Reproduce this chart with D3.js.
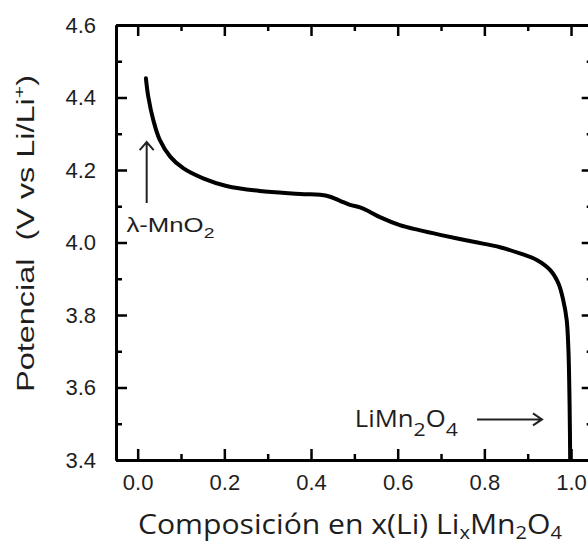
<!DOCTYPE html>
<html>
<head>
<meta charset="utf-8">
<script src="https://cdn.jsdelivr.net/npm/d3@7"></script>
<style>
  html, body { margin: 0; padding: 0; background: #fff; overflow: hidden; }
  svg { display: block; }
</style>
</head>
<body>
<svg id="chart" width="588" height="547"></svg>
<script>
// Discharge curve of Li_xMn2O4: composition x(Li) vs potential (V vs Li/Li+)
const compositionX = [0.019, 0.0245, 0.036, 0.051, 0.075, 0.105, 0.151, 0.205, 0.282, 0.375,
  0.436, 0.467, 0.49, 0.513, 0.535, 0.559, 0.605, 0.65, 0.698, 0.775, 0.836, 0.882, 0.921,
  0.952, 0.971, 0.982, 0.990, 0.994, 0.996, 0.9975, 0.998];
const potentialV = [4.453, 4.402, 4.338, 4.283, 4.237, 4.205, 4.177, 4.156, 4.142, 4.134,
  4.129, 4.115, 4.104, 4.097, 4.085, 4.070, 4.048, 4.034, 4.021, 4.002, 3.987, 3.970, 3.952,
  3.924, 3.887, 3.841, 3.786, 3.703, 3.602, 3.474, 3.40];

const xMajorTicks = [0.0, 0.2, 0.4, 0.6, 0.8, 1.0];
const xMinorTicks = [0.1, 0.3, 0.5, 0.7, 0.9];
const yMajorTicks = [3.4, 3.6, 3.8, 4.0, 4.2, 4.4, 4.6];
const yMinorTicks = [3.5, 3.7, 3.9, 4.1, 4.3, 4.5];

const xDomain = [-0.05, 1.05];
const yDomain = [3.4, 4.6];

// annotation anchors, in data units
const upArrow = { x: 0.0208, from: 4.109, to: 4.277 };
const rightArrow = { y: 3.512, from: 0.783, to: 0.933 };
const lambdaLabel = { x: -0.026, y: 4.029 };
const spinelLabel = { x: 0.501, y: 3.491 };

const svg = d3.select("#chart");
const x = d3.scaleLinear().domain(xDomain).range([116, 592.7]);
const y = d3.scaleLinear().domain(yDomain).range([460, 25]);

const armFont = "Arial, 'Liberation Sans', Helvetica, sans-serif";
const humFont = "'Open Sans', 'Noto Sans', sans-serif";
const ink = "#1e1e1e";

// curve
const data = compositionX.map((d, i) => [d, potentialV[i]]);
svg.append("path")
  .datum(data)
  .attr("fill", "none")
  .attr("stroke", "#000")
  .attr("stroke-width", 4)
  .attr("stroke-linejoin", "round")
  .attr("stroke-linecap", "round")
  .attr("d", d3.line().x(d => x(d[0])).y(d => y(d[1])).curve(d3.curveCatmullRom.alpha(0.5)));

// axes with inward ticks on all four sides
function styleAxis(g) {
  g.selectAll(".domain").attr("stroke-width", 3).attr("stroke", "#000");
  g.selectAll(".tick line").attr("stroke-width", 2.5).attr("stroke", "#000");
}
const axBottom = d3.axisBottom(x).tickValues(xMajorTicks).tickSizeInner(-11).tickSizeOuter(0)
  .tickPadding(14).tickFormat(d3.format(".1f"));
const axBottomMinor = d3.axisBottom(x).tickValues(xMinorTicks).tickSizeInner(-6).tickSizeOuter(0).tickFormat("");
const axTop = d3.axisTop(x).tickValues(xMajorTicks).tickSizeInner(-11).tickSizeOuter(0).tickFormat("");
const axTopMinor = d3.axisTop(x).tickValues(xMinorTicks).tickSizeInner(-6).tickSizeOuter(0).tickFormat("");
const axLeft = d3.axisLeft(y).tickValues(yMajorTicks).tickSizeInner(-11).tickSizeOuter(0)
  .tickPadding(20).tickFormat(d3.format(".1f"));
const axLeftMinor = d3.axisLeft(y).tickValues(yMinorTicks).tickSizeInner(-6).tickSizeOuter(0).tickFormat("");
const axRight = d3.axisRight(y).tickValues(yMajorTicks).tickSizeInner(-11).tickSizeOuter(0).tickFormat("");
const axRightMinor = d3.axisRight(y).tickValues(yMinorTicks).tickSizeInner(-6).tickSizeOuter(0).tickFormat("");

const gx = svg.append("g").attr("transform", `translate(0,${y(yDomain[0])})`).call(axBottom).call(styleAxis);
svg.append("g").attr("transform", `translate(0,${y(yDomain[0])})`).call(axBottomMinor).call(styleAxis);
svg.append("g").attr("transform", `translate(0,${y(yDomain[1])})`).call(axTop).call(styleAxis);
svg.append("g").attr("transform", `translate(0,${y(yDomain[1])})`).call(axTopMinor).call(styleAxis);
const gy = svg.append("g").attr("transform", `translate(${x(xDomain[0])},0)`).call(axLeft).call(styleAxis);
svg.append("g").attr("transform", `translate(${x(xDomain[0])},0)`).call(axLeftMinor).call(styleAxis);
svg.append("g").attr("transform", `translate(${x(xDomain[1])},0)`).call(axRight).call(styleAxis);
svg.append("g").attr("transform", `translate(${x(xDomain[1])},0)`).call(axRightMinor).call(styleAxis);

gx.selectAll(".tick text").attr("font-family", armFont).attr("font-size", 22).attr("fill", ink);
gy.selectAll(".tick text").attr("font-family", armFont).attr("font-size", 22).attr("fill", ink);

// axis titles
const xt = svg.append("text")
  .attr("x", 138).attr("y", 534)
  .attr("textLength", 424).attr("lengthAdjust", "spacingAndGlyphs")
  .attr("font-family", humFont).attr("font-size", 27).attr("fill", ink);
xt.append("tspan").text("Composición en x(Li) Li");
xt.append("tspan").attr("font-size", 18).attr("dy", 5).text("x");
xt.append("tspan").attr("dy", -5).text("Mn");
xt.append("tspan").attr("font-size", 18).attr("dy", 5).text("2");
xt.append("tspan").attr("dy", -5).text("O");
xt.append("tspan").attr("font-size", 18).attr("dy", 5).text("4");

const yt = svg.append("text")
  .attr("transform", "translate(34,392) rotate(-90)")
  .attr("textLength", 317).attr("lengthAdjust", "spacingAndGlyphs")
  .attr("font-family", armFont).attr("font-size", 23).attr("fill", ink);
yt.append("tspan").attr("xml:space", "preserve").text("Potencial  (V vs Li/Li");
yt.append("tspan").attr("font-size", 15).attr("dy", -10).text("+");
yt.append("tspan").attr("dy", 10).text(")");

// annotations
const arrowStroke = { stroke: "#222", width: 2 };
const ax = x(upArrow.x), ay0 = y(upArrow.from), ay1 = y(upArrow.to);
svg.append("path")
  .attr("d", `M${ax},${ay0}V${ay1}M${ax - 7},${ay1 + 8}L${ax},${ay1}L${ax + 7},${ay1 + 8}`)
  .attr("fill", "none").attr("stroke", arrowStroke.stroke).attr("stroke-width", arrowStroke.width);

const ry = y(rightArrow.y), rx0 = x(rightArrow.from), rx1 = x(rightArrow.to);
svg.append("path")
  .attr("d", `M${rx0},${ry}H${rx1}M${rx1 - 9},${ry - 6}L${rx1},${ry}L${rx1 - 9},${ry + 6}`)
  .attr("fill", "none").attr("stroke", arrowStroke.stroke).attr("stroke-width", arrowStroke.width);

const lt = svg.append("text")
  .attr("x", x(lambdaLabel.x)).attr("y", y(lambdaLabel.y))
  .attr("textLength", 88).attr("lengthAdjust", "spacingAndGlyphs")
  .attr("font-family", armFont).attr("font-size", 20).attr("fill", ink);
lt.append("tspan").text("λ-MnO");
lt.append("tspan").attr("font-size", 15).attr("dy", 6).text("2");

const st = svg.append("text")
  .attr("x", x(spinelLabel.x)).attr("y", y(spinelLabel.y))
  .attr("textLength", 103).attr("lengthAdjust", "spacingAndGlyphs")
  .attr("font-family", humFont).attr("font-size", 23).attr("fill", ink);
st.append("tspan").text("LiMn");
st.append("tspan").attr("font-size", 19).attr("dy", 9).text("2");
st.append("tspan").attr("dy", -9).text("O");
st.append("tspan").attr("font-size", 19).attr("dy", 9).text("4");
</script>
</body>
</html>
